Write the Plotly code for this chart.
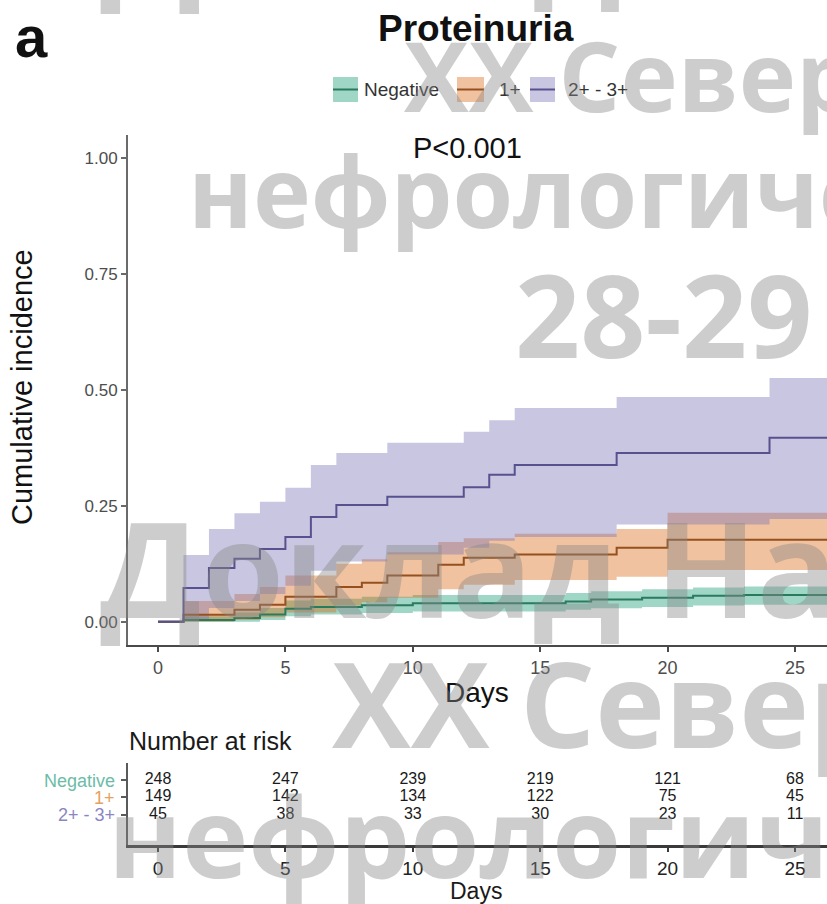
import plotly.graph_objects as go

# ---------------- data ----------------
groups = ["Negative", "1+", "2+ - 3+"]

# Negative
t_neg = [0, 1, 3, 4, 5, 6, 8, 10, 16, 17, 19, 21, 23, 30]
est_neg = [0, 0.004, 0.008, 0.016, 0.028, 0.032, 0.036, 0.040, 0.044, 0.048, 0.052, 0.056, 0.058, 0.058]
lo_neg = [0, 0.000, 0.000, 0.004, 0.012, 0.016, 0.019, 0.022, 0.026, 0.029, 0.032, 0.035, 0.037, 0.037]
hi_neg = [0, 0.012, 0.020, 0.030, 0.046, 0.050, 0.054, 0.058, 0.062, 0.066, 0.070, 0.074, 0.076, 0.076]

# 1+
t_p1 = [0, 1, 3, 4, 5, 7, 8, 9, 11, 12, 14, 18, 20, 30]
est_p1 = [0, 0.015, 0.026, 0.037, 0.054, 0.075, 0.084, 0.100, 0.123, 0.138, 0.145, 0.160, 0.177, 0.177]
lo_p1 = [0, 0.000, 0.004, 0.010, 0.020, 0.035, 0.042, 0.052, 0.070, 0.080, 0.090, 0.097, 0.112, 0.112]
hi_p1 = [0, 0.045, 0.060, 0.075, 0.100, 0.125, 0.135, 0.150, 0.172, 0.180, 0.190, 0.200, 0.235, 0.235]

# 2+ - 3+
t_p23 = [0, 1, 2, 3, 4, 5, 6, 7, 9, 12, 13, 14, 18, 24, 30]
est_p23 = [0, 0.073, 0.116, 0.136, 0.157, 0.183, 0.226, 0.252, 0.270, 0.290, 0.317, 0.338, 0.364, 0.397, 0.397]
lo_p23 = [0, 0.005, 0.030, 0.045, 0.060, 0.078, 0.110, 0.130, 0.145, 0.160, 0.175, 0.183, 0.210, 0.222, 0.222]
hi_p23 = [0, 0.144, 0.200, 0.234, 0.259, 0.289, 0.338, 0.364, 0.386, 0.410, 0.435, 0.461, 0.485, 0.526, 0.526]

# Number at risk
risk_days = [0, 5, 10, 15, 20, 25]
risk_neg = [248, 247, 239, 219, 121, 68]
risk_p1 = [149, 142, 134, 122, 75, 45]
risk_p23 = [45, 38, 33, 30, 23, 11]

x_ticks = [0, 5, 10, 15, 20, 25]
y_ticks = [0, 0.25, 0.50, 0.75, 1.00]
y_ticktext = ["0.00", "0.25", "0.50", "0.75", "1.00"]

# ---------------- styling ----------------
W, H = 827, 904
ML = 128
FONT = "Liberation Sans, Arial, sans-serif"
WM_FONT = "Open Sans, DejaVu Sans, sans-serif"
band_cols = ["rgba(27,158,119,0.42)", "rgba(217,95,2,0.38)", "rgba(117,112,179,0.40)"]
line_cols = ["#2a7a5e", "#94501f", "#57528f"]
label_cols = ["#6cbca8", "#e5a15e", "#8a86c2"]
WM_COL = "rgba(135,135,135,0.42)"


def px(x):
    return (x - ML) / (W - ML)


def py(y):
    return 1 - y / H


series = [
    (t_neg, est_neg, lo_neg, hi_neg),
    (t_p1, est_p1, lo_p1, hi_p1),
    (t_p23, est_p23, lo_p23, hi_p23),
]

fig = go.Figure()

# confidence bands
for i, (t, e, lo, hi) in enumerate(series):
    fig.add_trace(go.Scatter(x=t, y=lo, mode="lines", line=dict(width=0, shape="hv"),
                             showlegend=False, hoverinfo="skip", xaxis="x", yaxis="y"))
    fig.add_trace(go.Scatter(x=t, y=hi, mode="lines", line=dict(width=0, shape="hv"),
                             fill="tonexty", fillcolor=band_cols[i],
                             showlegend=False, hoverinfo="skip", xaxis="x", yaxis="y"))
# estimate lines
for i, (t, e, lo, hi) in enumerate(series):
    fig.add_trace(go.Scatter(x=t, y=e, mode="lines", name=groups[i],
                             line=dict(width=2, shape="hv", color=line_cols[i]),
                             showlegend=False, xaxis="x", yaxis="y"))

# number-at-risk table
for row, vals in zip([3, 2, 1], [risk_neg, risk_p1, risk_p23]):
    fig.add_trace(go.Scatter(x=risk_days, y=[row] * len(vals), mode="text",
                             text=[str(v) for v in vals],
                             textfont=dict(family=FONT, size=16, color="#1a1a1a"),
                             showlegend=False, hoverinfo="skip", xaxis="x2", yaxis="y2"))

x_range = [-30 / 25.48, (W - 158) / 25.48]

axis_common = dict(showgrid=False, zeroline=False, showline=True, ticks="outside",
                   automargin=False)

fig.update_layout(
    width=W, height=H, autosize=False,
    margin=dict(l=ML, r=0, t=0, b=0, pad=0),
    paper_bgcolor="white", plot_bgcolor="white",
    showlegend=False,
    xaxis=dict(domain=[0, 1], range=x_range, anchor="y", tickvals=x_ticks,
               linecolor="#4a4a4a", linewidth=2, tickcolor="#4a4a4a", ticklen=5, tickwidth=1.5,
               tickfont=dict(family=FONT, size=18, color="#4d4d4d"), **axis_common),
    yaxis=dict(domain=[py(645), py(135)], range=[-0.05, 1.05], anchor="x",
               tickvals=y_ticks, ticktext=y_ticktext,
               linecolor="#6a6a6a", linewidth=2, tickcolor="#6a6a6a", ticklen=5, tickwidth=1.5,
               tickfont=dict(family=FONT, size=17, color="#4d4d4d"), **axis_common),
    xaxis2=dict(domain=[0, 1], range=x_range, anchor="y2", tickvals=x_ticks,
                linecolor="#3a3a3a", linewidth=3, tickcolor="#3a3a3a", ticklen=4, tickwidth=1.5,
                tickfont=dict(family=FONT, size=19, color="#222222"), **axis_common),
    yaxis2=dict(domain=[py(845), py(763)], range=[-0.714, 3.97], anchor="x2",
                tickvals=[1, 2, 3], showticklabels=False,
                linecolor="#5a5a5a", linewidth=2, tickcolor="#5a5a5a", ticklen=5, tickwidth=1.5,
                **axis_common),
)

ann = []


def text(x, y, s, size, color="#111111", xanchor="center", bold=False, family=FONT, angle=0):
    ann.append(dict(x=px(x), y=py(y), xref="paper", yref="paper", text=("<b>%s</b>" % s) if bold else s,
                    showarrow=False, xanchor=xanchor, yanchor="middle", textangle=angle,
                    font=dict(family=family, size=size, color=color)))


text(13, 37, "a", 58, xanchor="left", bold=True)
text(476, 29, "Proteinuria", 37, bold=True)
text(467, 148, "P&lt;0.001", 29)
text(22, 387, "Cumulative incidence", 29, angle=-90)
text(477, 692, "Days", 28)
text(127, 741, "Number at risk", 25, color="#1a1a1a", xanchor="left")
text(476, 891, "Days", 23, color="#1a1a1a")

# risk table row labels
for lab, yy, c in zip(groups, [781, 798, 815], label_cols):
    text(117, yy, lab, 18, color=c, xanchor="right")

# legend (keys drawn as shapes, labels as text)
shapes = []
legend_keys = [(333, 358, 362), (457, 484, 497), (530, 555, 566)]
for i, (x0, x1, tx) in enumerate(legend_keys):
    shapes.append(dict(type="rect", xref="paper", yref="paper", x0=px(x0), x1=px(x1),
                       y0=py(102), y1=py(77), fillcolor=band_cols[i], line=dict(width=0)))
    shapes.append(dict(type="line", xref="paper", yref="paper", x0=px(x0), x1=px(x1),
                       y0=py(89.5), y1=py(89.5), line=dict(color=line_cols[i], width=2)))
    text(tx, 90, groups[i], 19, color="#333333", xanchor="left")

# watermark overlay text
watermarks = [
    ("Доклад На", 98, -66, 133),
    ("XX Север", 402, 74, 97),
    ("нефрологиче", 186, 190, 98),
    ("28-29", 513, 313, 114),
    ("Доклад На", 98, 566, 133),
    ("XX Север", 330, 702, 118),
    ("нефрологиче", 106, 834, 112),
]
for s, x, y, sz in watermarks:
    text(x, y, s, sz, color=WM_COL, xanchor="left", bold=True, family=WM_FONT)

fig.update_layout(annotations=ann, shapes=shapes)

fig.write_html("out.html", config={"displayModeBar": False},
               post_script="document.body.style.margin='0';document.body.style.overflow='hidden';")
